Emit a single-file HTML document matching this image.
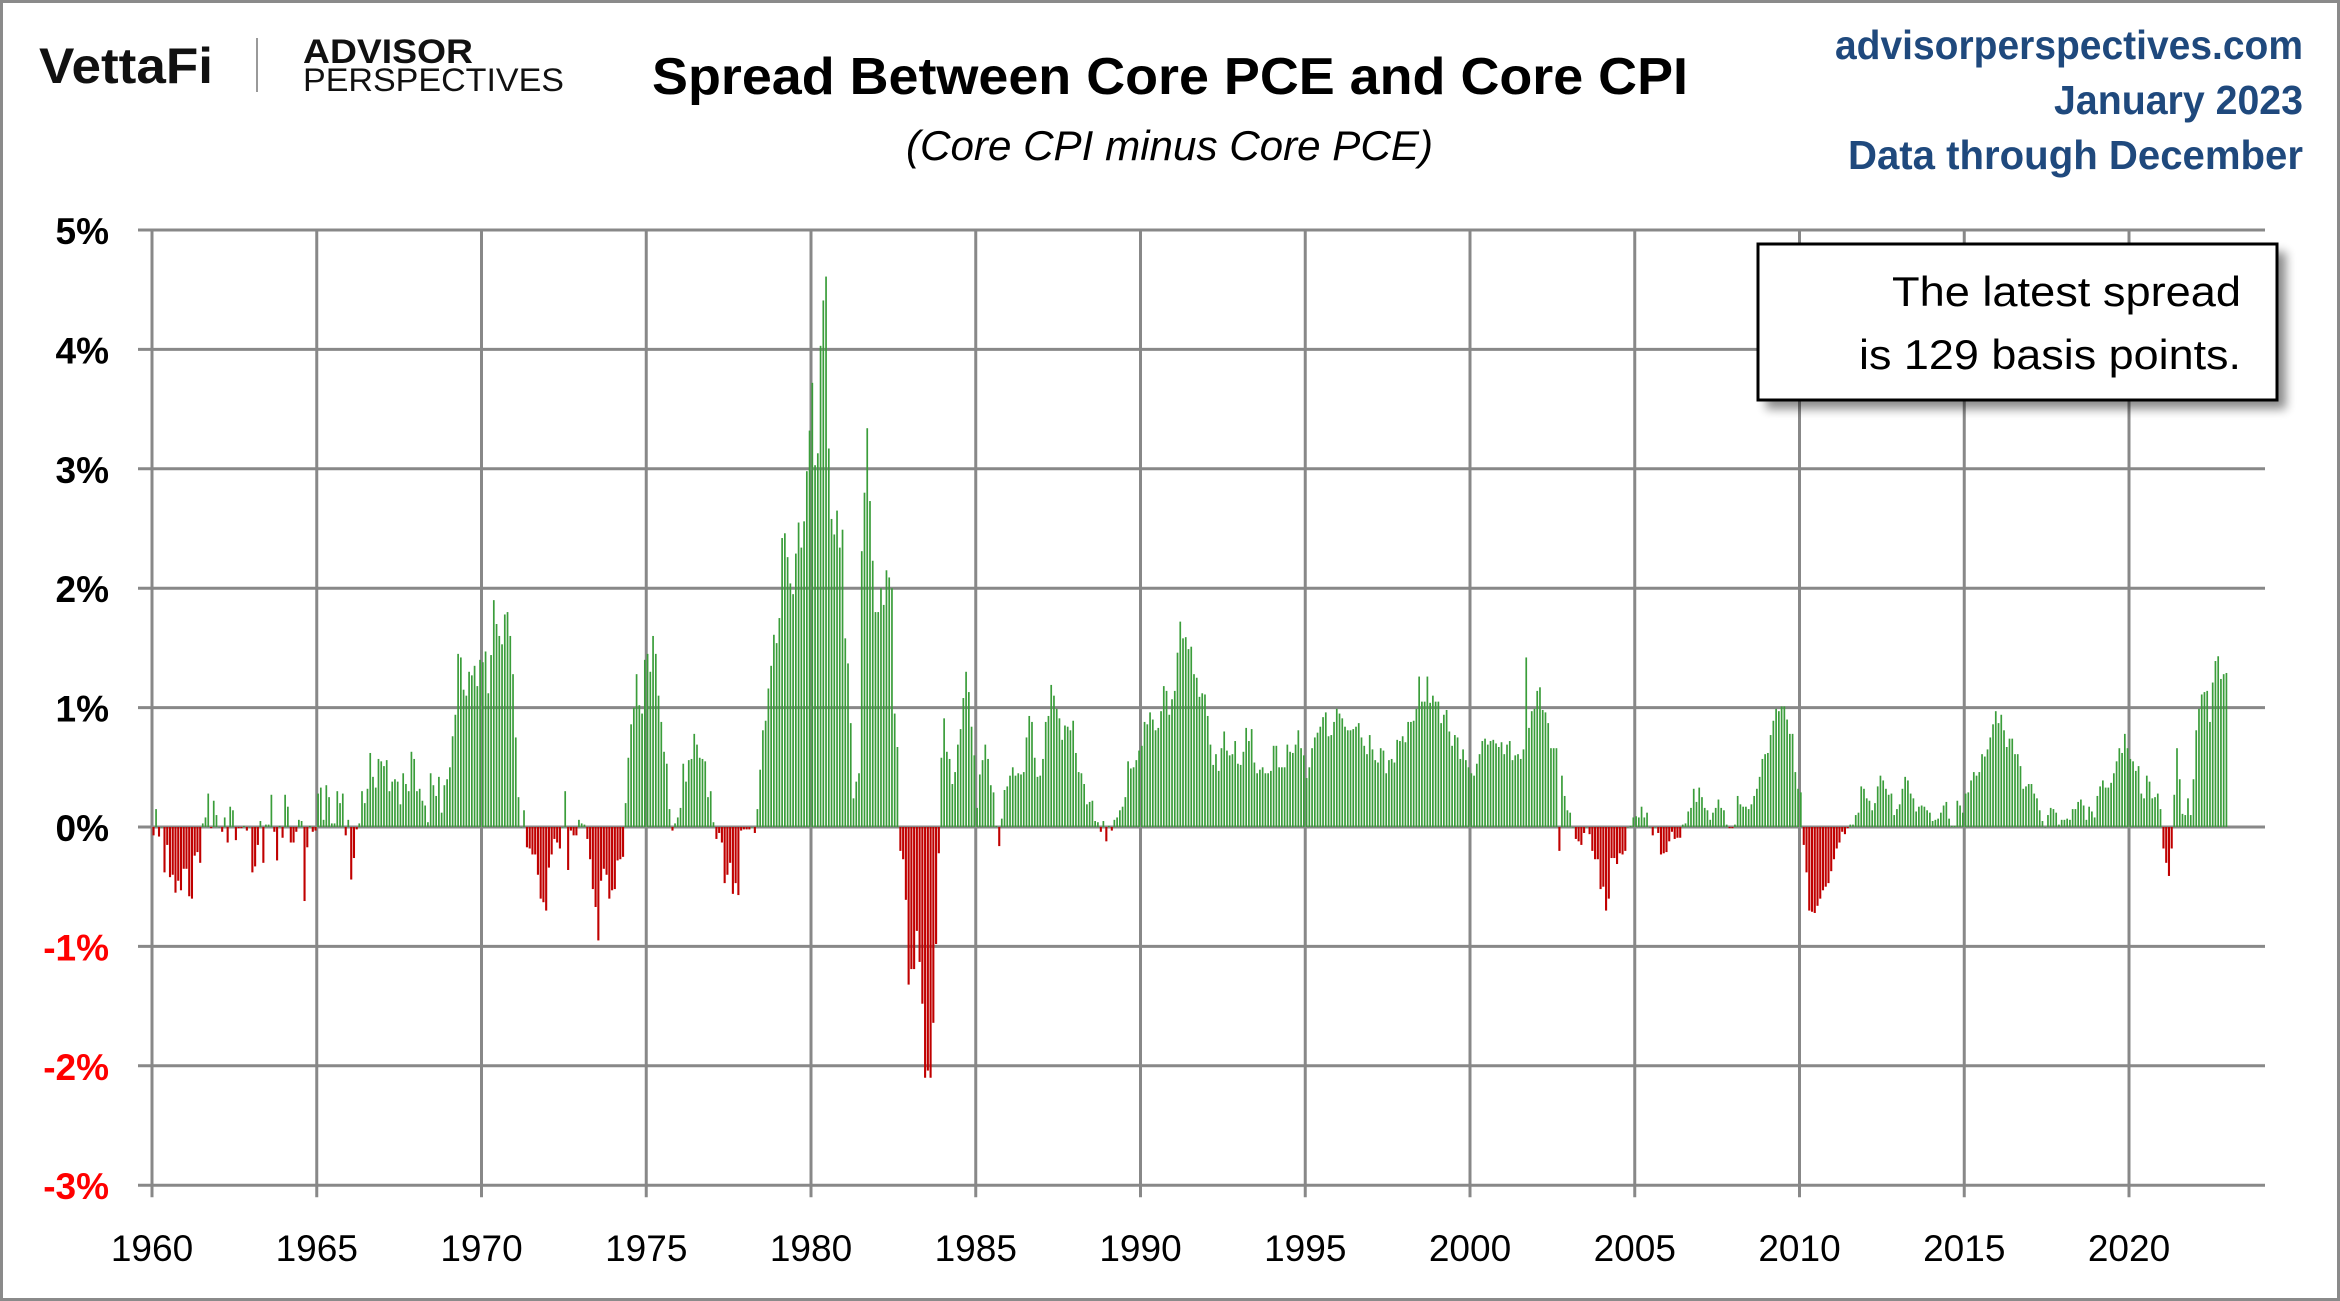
<!DOCTYPE html>
<html><head><meta charset="utf-8"><style>
html,body{margin:0;padding:0;background:#fff;}
svg{display:block;font-family:"Liberation Sans",sans-serif;}
</style></head><body>
<svg id="chart" width="2340" height="1301" viewBox="0 0 2340 1301" xmlns="http://www.w3.org/2000/svg">
<defs><filter id="sh" x="-10%" y="-10%" width="130%" height="140%"><feGaussianBlur stdDeviation="5"/></filter></defs>
<rect x="1.5" y="1.5" width="2337" height="1298" fill="#fff" stroke="#8a8a8a" stroke-width="3"/>
<g>
<text x="39" y="83" font-size="50" font-weight="bold" fill="#111" textLength="174" lengthAdjust="spacingAndGlyphs">VettaFi</text>
</g>
<line x1="257" y1="38" x2="257" y2="92" stroke="#999" stroke-width="2"/>
<g>
<text x="303" y="63" font-size="34" font-weight="bold" fill="#111" textLength="170" lengthAdjust="spacingAndGlyphs">ADVISOR</text>
<text x="303" y="91" font-size="32" fill="#111" textLength="261" lengthAdjust="spacingAndGlyphs">PERSPECTIVES</text>
</g>
<text x="652" y="94" font-size="52" font-weight="bold" fill="#000" textLength="1036" lengthAdjust="spacingAndGlyphs">Spread Between Core PCE and Core CPI</text>
<text x="906" y="160" font-size="42" font-style="italic" fill="#000" textLength="527" lengthAdjust="spacingAndGlyphs">(Core CPI minus Core PCE)</text>
<g fill="#1f497d" font-weight="bold" font-size="41" text-anchor="end">
<text x="2303" y="59" textLength="468" lengthAdjust="spacingAndGlyphs">advisorperspectives.com</text>
<text x="2303" y="114" textLength="249" lengthAdjust="spacingAndGlyphs">January 2023</text>
<text x="2303" y="169" textLength="455" lengthAdjust="spacingAndGlyphs">Data through December</text>
</g>
<g id="grid"></g>
<g id="bars"></g>
<g id="ylabels"></g>
<g id="xlabels"></g>
<g>
<rect x="1766" y="252" width="520" height="157" fill="#000" opacity="0.45" filter="url(#sh)"/>
<rect x="1758" y="244" width="519" height="156" fill="#fff" stroke="#000" stroke-width="3"/>
<text x="2241" y="306" font-size="42" text-anchor="end" fill="#000" textLength="349" lengthAdjust="spacingAndGlyphs">The latest spread</text>
<text x="2241" y="369" font-size="42" text-anchor="end" fill="#000" textLength="382" lengthAdjust="spacingAndGlyphs">is 129 basis points.</text>
</g>
</svg>
<script>
const startYear = 1960;
const yTicks = [5,4,3,2,1,0,-1,-2,-3];
const yTickLabels = ["5%","4%","3%","2%","1%","0%","-1%","-2%","-3%"];
const xTicks = [1960,1965,1970,1975,1980,1985,1990,1995,2000,2005,2010,2015,2020];
const spread1960s = [
-0.07,0.15,-0.08,0,-0.38,-0.15,-0.42,-0.4,-0.55,-0.45,-0.53,-0.35,
-0.35,-0.58,-0.6,-0.24,-0.21,-0.3,0.03,0.08,0.28,-0.01,0.22,0.1,
0,-0.04,0.08,-0.13,0.17,0.14,-0.11,-0.01,-0.01,0.01,-0.03,0,
-0.38,-0.33,-0.15,0.05,-0.3,0.02,0.02,0.27,-0.04,-0.28,0.01,-0.09,
0.27,0.17,-0.13,-0.13,-0.04,0.06,0.05,-0.62,-0.17,0.01,-0.04,-0.03,
0.28,0.33,0.06,0.35,0.25,0.03,0.03,0.3,0.2,0.28,-0.07,0.06,
-0.44,-0.26,-0.02,0.03,0.3,0.2,0.32,0.62,0.42,0.33,0.57,0.55,
0.51,0.56,0.3,0.38,0.4,0.38,0.19,0.45,0.36,0.3,0.63,0.57,
0.3,0.32,0.22,0.18,0.04,0.45,0.35,0.26,0.42,0.12,0.35,0.4,
0.5,0.76,0.94,1.45,1.42,1.15,1.1,1.3,1.27,1.35,1.18,1.4];
const spread1970s = [
1.38,1.47,1.12,1.44,1.9,1.7,1.6,1.53,1.78,1.8,1.6,1.28,
0.75,0.25,0,0.14,-0.17,-0.18,-0.23,-0.23,-0.4,-0.6,-0.63,-0.7,
-0.34,-0.23,-0.1,-0.13,-0.18,0,0.3,-0.36,-0.03,-0.07,-0.07,0.06,
0.03,0.02,-0.1,-0.27,-0.52,-0.67,-0.95,-0.45,-0.35,-0.4,-0.6,-0.53,
-0.52,-0.28,-0.27,-0.25,0.2,0.58,0.86,1.0,1.28,1.02,0.95,1.4,
1.45,1.3,1.6,1.45,1.1,0.88,0.63,0.53,0.15,-0.03,0.03,0.08,
0.16,0.53,0.38,0.56,0.57,0.78,0.69,0.58,0.57,0.55,0.25,0.3,
0.04,-0.1,-0.05,-0.13,-0.47,-0.4,-0.3,-0.56,-0.47,-0.57,-0.03,-0.02,
-0.02,-0.02,0,-0.05,0.15,0.48,0.81,0.89,1.16,1.35,1.61,1.54,
1.75,2.42,2.46,2.26,2.04,1.95,2.29,2.55,2.34,2.56,2.98,3.32];
const spread1980s = [
3.72,3.03,3.13,4.03,4.41,4.61,3.17,2.58,2.45,2.65,2.34,2.49,
1.58,1.37,0.87,0.24,0.38,0.45,2.31,2.8,3.34,2.73,2.23,1.8,
1.8,2.0,1.86,2.15,2.09,2.0,0.95,0.67,-0.2,-0.27,-0.61,-1.32,
-1.19,-1.19,-0.87,-1.13,-1.48,-2.1,-2.04,-2.1,-1.64,-0.98,-0.22,0.58,
0.91,0.63,0.57,0.36,0.46,0.69,0.82,1.08,1.3,1.13,0.84,0.6,
0.16,0.44,0.56,0.69,0.57,0.35,0.29,0.01,-0.16,0.07,0.31,0.34,
0.43,0.5,0.43,0.45,0.44,0.46,0.75,0.93,0.88,0.58,0.42,0.43,
0.57,0.88,0.93,1.19,1.1,0.99,0.91,0.73,0.85,0.84,0.81,0.89,
0.62,0.46,0.45,0.36,0.19,0.21,0.22,0.05,0.04,-0.04,0.05,-0.12,
0.01,-0.03,0.06,0.08,0.14,0.17,0.25,0.55,0.49,0.5,0.56,0.64];
const spread1990s = [
0.68,0.88,0.86,0.96,0.9,0.81,0.83,0.97,1.18,1.14,0.94,1.07,
1.14,1.46,1.72,1.58,1.59,1.49,1.51,1.28,1.25,1.09,1.12,1.11,
0.93,0.69,0.52,0.61,0.47,0.66,0.8,0.64,0.6,0.61,0.72,0.53,
0.52,0.63,0.83,0.72,0.82,0.54,0.45,0.48,0.5,0.45,0.45,0.47,
0.68,0.68,0.5,0.5,0.5,0.69,0.63,0.62,0.69,0.81,0.66,0.6,
0.41,0.5,0.66,0.75,0.79,0.84,0.92,0.96,0.76,0.77,0.88,0.99,
0.95,0.91,0.84,0.81,0.81,0.82,0.84,0.87,0.75,0.68,0.61,0.77,
0.65,0.56,0.54,0.66,0.64,0.45,0.56,0.57,0.54,0.73,0.72,0.76,
0.71,0.88,0.88,0.89,0.99,1.26,1.05,1.05,1.26,1.04,1.1,1.05,
1.05,0.87,0.94,0.98,0.8,0.68,0.77,0.75,0.57,0.65,0.56,0.5];
const spread2000s = [
0.45,0.43,0.53,0.61,0.72,0.74,0.69,0.72,0.73,0.7,0.67,0.71,
0.61,0.69,0.72,0.56,0.6,0.61,0.57,0.65,1.42,0.83,0.97,0.99,
1.14,1.17,0.98,0.96,0.87,0.66,0.66,0.66,-0.2,0.43,0.26,0.14,
0.12,0,-0.1,-0.12,-0.15,-0.05,0,-0.06,-0.2,-0.27,-0.27,-0.52,
-0.5,-0.7,-0.6,-0.26,-0.26,-0.31,-0.22,-0.23,-0.2,0,0.01,0.08,
0.09,0.08,0.17,0.08,0.12,0,-0.07,0,-0.05,-0.23,-0.22,-0.21,
-0.12,-0.04,-0.1,-0.09,-0.09,0.02,0.03,0.13,0.16,0.32,0.21,0.33,
0.25,0.16,0.14,0.06,0.12,0.16,0.23,0.16,0.14,0.02,-0.01,-0.01,
0.02,0.26,0.19,0.17,0.17,0.15,0.19,0.26,0.32,0.42,0.57,0.61,
0.62,0.77,0.89,0.99,0.97,1.01,1.01,0.9,0.78,0.78,0.46,0.32];
const spread2010s = [
0.29,-0.15,-0.38,-0.7,-0.71,-0.72,-0.66,-0.6,-0.53,-0.5,-0.47,-0.37,
-0.27,-0.18,-0.13,-0.04,-0.06,-0.01,0.02,0.02,0.1,0.12,0.34,0.32,
0.24,0.22,0.14,0.2,0.34,0.43,0.39,0.32,0.27,0.28,0.1,0.15,
0.19,0.32,0.42,0.39,0.28,0.24,0.13,0.17,0.18,0.17,0.14,0.12,
0.05,0.06,0.07,0.12,0.18,0.21,0.07,0.01,0.01,0.22,0.18,0.12,
0.28,0.29,0.39,0.46,0.43,0.46,0.61,0.59,0.65,0.75,0.86,0.97,
0.87,0.94,0.81,0.67,0.74,0.74,0.61,0.61,0.51,0.32,0.34,0.36,
0.36,0.28,0.24,0.14,0.05,0,0.1,0.16,0.15,0.12,0.02,0.06,
0.06,0.07,0.06,0.15,0.15,0.21,0.23,0.18,0.06,0.17,0.13,0.08,
0.26,0.34,0.39,0.33,0.33,0.37,0.45,0.55,0.66,0.62,0.78,0.66];
const spread2020s = [
0.57,0.55,0.47,0.51,0.28,0.24,0.43,0.38,0.24,0.25,0.28,0.15,
-0.18,-0.3,-0.41,-0.18,0.27,0.66,0.4,0.11,0.1,0.24,0.1,0.4,
0.81,0.99,1.11,1.13,1.14,0.88,1.21,1.39,1.43,1.24,1.28,1.29];
const spread = [].concat(spread1960s,spread1970s,spread1980s,spread1990s,spread2000s,spread2010s,spread2020s);

const NS="http://www.w3.org/2000/svg";
const X0=152, PX_YEAR=32.95, XR=2265;
const Y0=827, PX_PCT=119.4;
function xScale(t){return X0+(t-startYear)*PX_YEAR;}
function yScale(v){return Y0-v*PX_PCT;}
function mk(tag,attrs,parent){const e=document.createElementNS(NS,tag);for(const k in attrs)e.setAttribute(k,attrs[k]);parent.appendChild(e);return e;}
const grid=document.getElementById('grid');
yTicks.forEach(function(v){
  const l=mk('line',{x1:138,x2:XR,y1:yScale(v),y2:yScale(v),stroke:'#888','stroke-width':3},grid);
  
  
});
xTicks.forEach(function(y){
  const l=mk('line',{x1:xScale(y),x2:xScale(y),y1:yScale(5),y2:yScale(-3)+12,stroke:'#888','stroke-width':3},grid);
  
  
});
const bars=document.getElementById('bars');
const mw=PX_YEAR/12;
spread.forEach(function(v,i){
  const t=startYear+i/12;
  const x=xScale(t)+mw*0.5;
  const pos=v>=0;
  const y1=yScale(Math.max(v,0)), y2=yScale(Math.min(v,0));
  const r=mk('rect',{x:x-0.9,y:y1,width:pos?1.7:2.1,height:Math.max(0.5,y2-y1),fill:pos?'#3a9d3a':'#c00000'},bars);
  
  
});
const yl=document.getElementById('ylabels');
yTicks.forEach(function(v,i){
  const t=mk('text',{x:109,y:yScale(v)+14,'text-anchor':'end','font-size':37,'font-weight':'bold',fill:v<0?'#ff0000':'#000'},yl);
  t.textContent=yTickLabels[i];
  
  
});
const xl=document.getElementById('xlabels');
xTicks.forEach(function(y){
  const t=mk('text',{x:xScale(y),y:1261,'text-anchor':'middle','font-size':37,fill:'#000'},xl);
  t.textContent=String(y);
  
  
});
</script>
</body></html>
